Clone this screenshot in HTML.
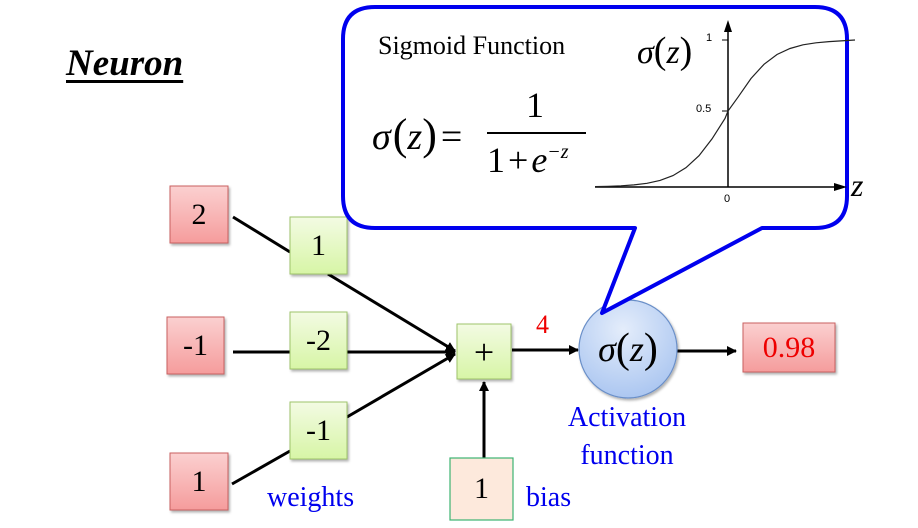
<!DOCTYPE html>
<html><head><meta charset="utf-8"><style>
html,body{margin:0;padding:0;background:#fff;width:918px;height:528px;overflow:hidden}
body{position:relative;font-family:"Liberation Serif","Times New Roman",serif}
svg{display:block;position:absolute;left:0;top:0}
.t{position:absolute;line-height:1;white-space:nowrap;font-family:"Liberation Serif","Times New Roman",serif}
.b{position:absolute;display:flex;align-items:center;justify-content:center;font-size:30px;font-family:"Liberation Serif","Times New Roman",serif;line-height:1}
.c{text-align:center;width:200px}
</style></head><body>
<svg width="918" height="528" viewBox="0 0 918 528" xmlns="http://www.w3.org/2000/svg">
<defs>
<linearGradient id="red" x1="0" y1="0" x2="0" y2="1"><stop offset="0" stop-color="#fbd0d0"/><stop offset="1" stop-color="#f59c9c"/></linearGradient>
<linearGradient id="grn" x1="0" y1="0" x2="0" y2="1"><stop offset="0" stop-color="#f3fbe3"/><stop offset="1" stop-color="#d7f5a6"/></linearGradient>
<radialGradient id="blu" cx="0.45" cy="0.3" r="0.75"><stop offset="0" stop-color="#e4edfb"/><stop offset="1" stop-color="#a8c4f0"/></radialGradient>
<marker id="ar" markerWidth="10" markerHeight="10" refX="9" refY="5" orient="auto" markerUnits="userSpaceOnUse"><path d="M0,0 L10,5 L0,10 Z" fill="#000"/></marker>
<filter id="sh" x="-20%" y="-20%" width="150%" height="150%"><feDropShadow dx="1.5" dy="2" stdDeviation="1.2" flood-opacity="0.3"/></filter>
</defs>

<g stroke="#000" stroke-width="3" fill="none">
<line x1="233" y1="217" x2="290" y2="252"/>
<line x1="328" y1="274" x2="455" y2="351" marker-end="url(#ar)"/>
<line x1="233" y1="352" x2="290" y2="352"/>
<line x1="347" y1="352" x2="455" y2="352" marker-end="url(#ar)"/>
<line x1="232" y1="484" x2="290" y2="451"/>
<line x1="347" y1="417" x2="455" y2="354" marker-end="url(#ar)"/>
<line x1="484" y1="459" x2="484" y2="382" marker-end="url(#ar)"/>
<line x1="512" y1="350" x2="578" y2="350" marker-end="url(#ar)"/>
<line x1="677" y1="351" x2="736" y2="351" marker-end="url(#ar)"/>
</g>

<g filter="url(#sh)" stroke="#c96060" stroke-width="1" fill="url(#red)">
<rect x="170" y="186" width="58" height="57"/>
<rect x="167" y="317" width="57" height="57"/>
<rect x="170" y="453" width="58" height="57"/>
<rect x="743" y="323" width="92" height="49"/>
</g>
<g filter="url(#sh)" stroke="#9ec46a" stroke-width="1" fill="url(#grn)">
<rect x="290" y="217" width="57" height="57"/>
<rect x="290" y="312" width="57" height="57"/>
<rect x="290" y="402" width="57" height="57"/>
<rect x="457" y="324" width="54" height="55"/>
</g>
<rect x="450" y="458" width="63" height="62" fill="#fde9dc" stroke="#3cb371" stroke-width="1.2"/>
<circle cx="628" cy="349" r="49" fill="url(#blu)" stroke="#6a8fc8" stroke-width="1.2" filter="url(#sh)"/>

<path d="M375,7 H815 Q847,7 847,39 V196 Q847,228 815,228 H762 L602,313 L635,228 H375 Q343,228 343,196 V39 Q343,7 375,7 Z" fill="#fff" stroke="#0000ee" stroke-width="4" stroke-linejoin="round"/>
<rect x="487" y="132" width="99" height="2" fill="#000"/>

<line x1="722" y1="40" x2="728" y2="40" stroke="#000"/>
<line x1="722" y1="111" x2="728" y2="111" stroke="#000"/>
<line x1="728" y1="187" x2="728" y2="30" stroke="#000" stroke-width="1.5"/>
<path d="M724,32 L728,20 L732,32 Z" fill="#000"/>
<line x1="595" y1="187" x2="836" y2="187" stroke="#000" stroke-width="1.5"/>
<path d="M834,183 L847,187 L834,191 Z" fill="#000"/>
<polyline fill="none" stroke="#222" stroke-width="1.2" points="595,186.6 608,186.3 621,185.8 634,184.9 647,183.3 660,180.4 673,175.6 686,167.7 699,155.7 712,138.9 725,118.5 728,111 738,97.2 751,78.5 764,64.3 777,54.5 790,48.5 803,44.8 816,42.8 829,41.6 855,40"/>
</svg>

<div class="t" style="left:66px;top:45px;font-size:37px;font-weight:bold;font-style:italic;text-decoration:underline;text-decoration-thickness:2.5px;text-underline-offset:5px">Neuron</div>

<div class="t" style="left:378px;top:33px;font-size:26px">Sigmoid Function</div>
<div class="t" style="left:372px;top:113px;font-size:38px"><i>σ</i><span style="font-size:44px;margin-left:2px">(</span><i>z</i><span style="font-size:44px">)</span><span style="margin-left:4px">=</span></div>
<div class="t" style="left:526px;top:87px;font-size:36px">1</div>
<div class="t" style="left:487px;top:142px;font-size:36px">1<span style="margin:0 3px">+</span><i>e</i><sup style="font-size:20px;vertical-align:14px"><i>−z</i></sup></div>
<div class="t" style="left:637px;top:32px;font-size:34px"><i>σ</i><span style="font-size:38px">(</span><i>z</i><span style="font-size:38px">)</span></div>
<div class="t" style="left:851px;top:169px;font-size:32px"><i>z</i></div>
<div class="t" style="left:706px;top:33px;font-size:11px;font-family:'Liberation Sans',sans-serif">1</div>
<div class="t" style="left:696px;top:104px;font-size:11px;font-family:'Liberation Sans',sans-serif">0.5</div>
<div class="t" style="left:724px;top:194px;font-size:11px;font-family:'Liberation Sans',sans-serif">0</div>

<div class="b" style="left:170px;top:186px;width:58px;height:57px">2</div>
<div class="b" style="left:167px;top:317px;width:57px;height:57px">-1</div>
<div class="b" style="left:170px;top:453px;width:58px;height:57px">1</div>
<div class="b" style="left:290px;top:217px;width:57px;height:57px">1</div>
<div class="b" style="left:290px;top:312px;width:57px;height:57px">-2</div>
<div class="b" style="left:290px;top:402px;width:57px;height:57px">-1</div>
<div class="b" style="left:457px;top:324px;width:54px;height:55px;font-size:36px">+</div>
<div class="b" style="left:450px;top:458px;width:63px;height:62px">1</div>
<div class="b" style="left:743px;top:323px;width:92px;height:49px;color:#ee0000">0.98</div>
<div class="b" style="left:579px;top:300px;width:98px;height:98px;font-size:36px"><i>σ</i><span style="font-size:42px">(</span><i>z</i><span style="font-size:42px">)</span></div>

<div class="t" style="left:536px;top:312px;font-size:26px;color:#ee0000">4</div>
<div class="t" style="left:267px;top:484px;font-size:28px;color:#0000ee">weights</div>
<div class="t" style="left:526px;top:484px;font-size:28px;color:#0000ee">bias</div>
<div class="t c" style="left:527px;top:404px;font-size:28px;color:#0000ee">Activation</div>
<div class="t c" style="left:527px;top:442px;font-size:28px;color:#0000ee">function</div>
</body></html>
